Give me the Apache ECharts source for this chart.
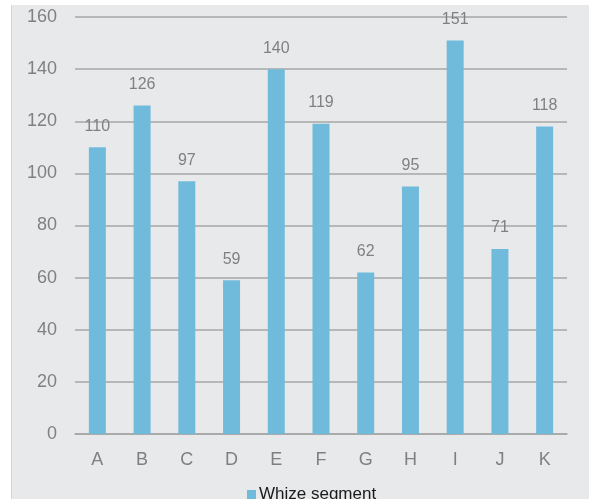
<!DOCTYPE html>
<html>
<head>
<meta charset="utf-8">
<script src="https://cdn.jsdelivr.net/npm/echarts@6/dist/echarts.min.js"></script>
<style>
  html, body { margin: 0; padding: 0; background: #ffffff; }
  #chart { width: 589px; height: 499px; }
</style>
</head>
<body>
<div id="chart"></div>
<script>
// Segment sizes per category
const categories = ['A', 'B', 'C', 'D', 'E', 'F', 'G', 'H', 'I', 'J', 'K'];
const whizeSegment = [110, 126, 97, 59, 140, 119, 62, 95, 151, 71, 118];
const seriesName = 'Whize segment';

const textColor = '#808080';
const fontFamily = '"Liberation Sans", Arial, sans-serif';

const chart = echarts.init(document.getElementById('chart'));
chart.setOption({
  backgroundColor: '#ffffff',
  animation: false,
  graphic: [
    {
      type: 'rect',
      z: -10,
      shape: { x: 11, y: 5, width: 578, height: 494 },
      style: { fill: '#e8e9eb' }
    },
    {
      type: 'line',
      z: -9,
      shape: { x1: 11.5, y1: 5, x2: 11.5, y2: 499 },
      style: { stroke: '#d4d5d7', lineWidth: 1 }
    }
  ],
  grid: { left: 75, right: 22, top: 17, bottom: 65, containLabel: false },
  legend: {
    top: 481,
    left: 242,
    itemWidth: 9,
    itemHeight: 9,
    itemGap: 4,
    icon: 'rect',
    textStyle: { color: '#1a1a1a', fontSize: 17, fontFamily: fontFamily, padding: [0, 0, 0, -2] },
    data: [seriesName]
  },
  xAxis: {
    type: 'category',
    data: categories,
    axisLine: { show: true, lineStyle: { color: '#a6a6a6', width: 1.5 } },
    axisTick: { show: false },
    axisLabel: { color: textColor, fontSize: 18, fontFamily: fontFamily, margin: 17 }
  },
  yAxis: {
    type: 'value',
    min: 0,
    max: 160,
    interval: 20,
    axisLine: { show: false },
    axisTick: { show: false },
    splitLine: { lineStyle: { color: '#a6a6a6', width: 1.5 } },
    axisLabel: { color: textColor, fontSize: 18, fontFamily: fontFamily, margin: 18 }
  },
  series: [{
    name: seriesName,
    type: 'bar',
    data: whizeSegment,
    barWidth: '38%',
    itemStyle: { color: '#70bbdb' },
    label: {
      show: true,
      position: 'top',
      distance: 13,
      color: textColor,
      fontSize: 16,
      fontFamily: fontFamily
    }
  }]
});
</script>
</body>
</html>
